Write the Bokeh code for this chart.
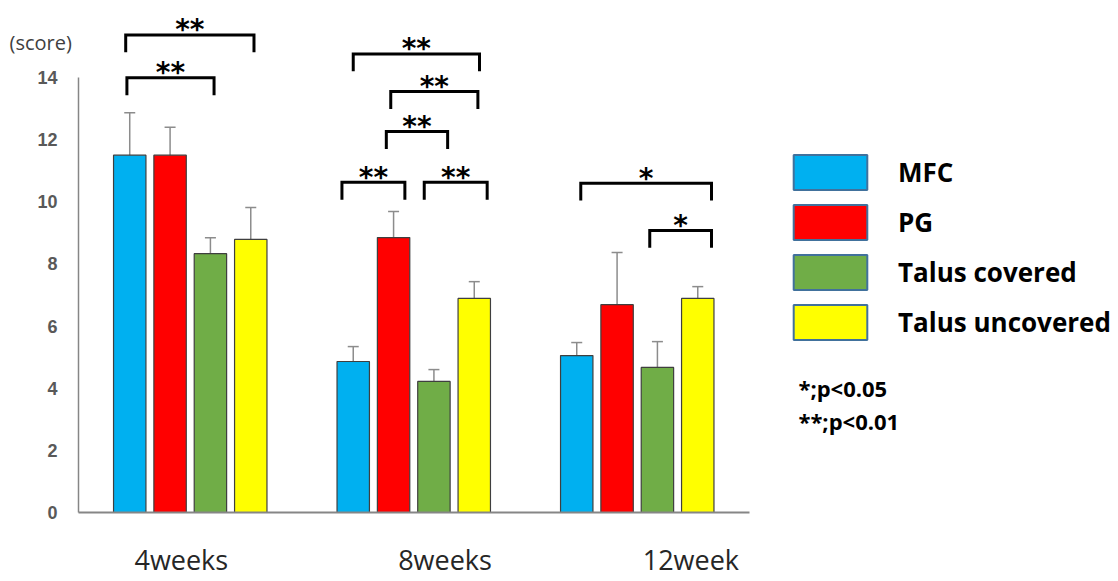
from bokeh.plotting import figure
from bokeh.models import (Range1d, FixedTicker, Whisker, TeeHead, ColumnDataSource,
                          Label, Legend, LegendItem)
from bokeh.core.properties import value
from bokeh.embed import file_html
from bokeh.resources import INLINE

# ---------------- data ----------------
weeks = ["4weeks", "8weeks", "12week"]
groups = ["MFC", "PG", "Talus covered", "Talus uncovered"]
colors = ["#00B0F0", "#FF0000", "#70AD47", "#FFFF00"]

mfc = [11.5, 4.86, 5.05]
mfc_err = [1.37, 0.48, 0.42]
pg = [11.5, 8.85, 6.69]
pg_err = [0.90, 0.84, 1.68]
talus_cov = [8.33, 4.22, 4.67]
talus_cov_err = [0.51, 0.38, 0.83]
talus_unc = [8.79, 6.89, 6.89]
talus_unc_err = [1.03, 0.54, 0.38]

means = [mfc, pg, talus_cov, talus_unc]
errors = [mfc_err, pg_err, talus_cov_err, talus_unc_err]

y_ticks = [0, 2, 4, 6, 8, 10, 12, 14]

# significance brackets: (week index, left slot, right slot, level, label)
bracket_week = [0, 0, 1, 1, 1, 1, 1, 2, 2]
bracket_left = [-0.10, -0.07, 0.0, 0.93, 0.82, -0.28, 1.76, 0.10, 1.81]
bracket_right = [3.08, 2.09, 3.13, 3.09, 2.34, 1.28, 3.32, 3.34, 3.34]
bracket_level = [15.37, 13.99, 14.76, 13.55, 12.26, 10.63, 10.63, 10.60, 9.08]
bracket_text = ["**", "**", "**", "**", "**", "**", "**", "*", "*"]

notes = ["*;p<0.05", "**;p<0.01"]

# ---------------- layout constants ----------------
pitch = 0.1805      # distance between bars within a group (x units)
bar_w = 0.145
drop = 0.56         # bracket leg length
week_label_pos = [0.46, 1.64, 2.74]
px_per_unit = 31.07
top_px = 512        # pixels from frame top to y = 0
bottom_px = 66      # pixels below y = 0 (room for week labels)
frame_h = top_px + bottom_px
frame_w = 1102
group_px = 223.5
left_pad = 70       # pixels between frame left and the y axis
x_start = -left_pad / group_px
x_end = x_start + frame_w / group_px
y_start = -bottom_px / px_per_unit
y_end = top_px / px_per_unit


def slot_x(week, slot):
    return week + 0.5 + (slot - 1.5) * pitch


p = figure(frame_width=frame_w, frame_height=frame_h,
           x_range=Range1d(x_start, x_end), y_range=Range1d(y_start, y_end),
           output_backend="svg", toolbar_location=None,
           min_border_left=8, min_border_right=0, min_border_top=0,
           min_border_bottom=0, background_fill_color="white",
           border_fill_color="white")
p.outline_line_color = None
p.xgrid.visible = False
p.ygrid.visible = False

for j, (g, c) in enumerate(zip(groups, colors)):
    xs = [slot_x(i, j) for i in range(len(weeks))]
    tops = means[j]
    uppers = [m + e for m, e in zip(means[j], errors[j])]
    src = ColumnDataSource(dict(x=xs, top=tops, upper=uppers))
    p.add_layout(Whisker(source=src, base="x", lower="top", upper="upper",
                         line_color="#8C8C8C", line_width=1.5,
                         lower_head=None,
                         upper_head=TeeHead(size=11, line_color="#8C8C8C",
                                            line_width=1.5)))
    p.vbar(x="x", top="top", bottom=0, width=bar_w, source=src, fill_color=c,
           line_color="#3F3F3F", line_width=1.2)

# brackets
bx, by, tx, ty = [], [], [], []
for w, l, r, lev in zip(bracket_week, bracket_left, bracket_right, bracket_level):
    x0, x1 = slot_x(w, l), slot_x(w, r)
    bx.append([x0, x0, x1, x1])
    by.append([lev - drop, lev, lev, lev - drop])
    tx.append((x0 + x1) / 2)
    ty.append(lev)
p.multi_line(xs=bx, ys=by, line_color="black", line_width=3,
             line_join="miter")
p.text(x=tx, y=ty, text=bracket_text, text_align="center",
       text_baseline="alphabetic", text_font=value("DejaVu Sans"),
       text_font_style="bold", text_font_size="28px", text_color="black",
       y_offset=-5)

# axes
p.yaxis.fixed_location = 0
p.yaxis.ticker = FixedTicker(ticks=y_ticks)
p.yaxis.bounds = (0, 14)
p.yaxis.major_tick_line_color = None
p.yaxis.minor_tick_line_color = None
p.yaxis.axis_line_color = "#868686"
p.yaxis.axis_line_width = 1.5
p.yaxis.major_label_text_font = "Liberation Sans"
p.yaxis.major_label_text_font_style = "bold"
p.yaxis.major_label_text_font_size = "18px"
p.yaxis.major_label_text_color = "#595959"
p.yaxis.major_label_standoff = 15

p.xaxis.fixed_location = 0
p.xaxis.ticker = FixedTicker(ticks=week_label_pos)
p.xaxis.major_label_overrides = {pos: w for pos, w in zip(week_label_pos, weeks)}
p.xaxis.bounds = (0, 3)
p.xaxis.major_tick_line_color = None
p.xaxis.minor_tick_line_color = None
p.xaxis.axis_line_color = "#868686"
p.xaxis.axis_line_width = 2
p.xaxis.major_label_text_font = "Open Sans"
p.xaxis.major_label_text_font_size = "27px"
p.xaxis.major_label_text_color = "#262626"
p.xaxis.major_label_standoff = 22

p.add_layout(Label(x=x_start, y=15.13, x_units="data", y_units="data",
                   text="(score)", text_baseline="middle", x_offset=1,
                   text_font="Open Sans", text_font_size="20px",
                   text_color="#404040"))

# ---------------- legend ----------------
items = []
for g, c in zip(groups, colors):
    r = p.rect(x=[-10], y=[-10], width=0.1, height=0.1, fill_color=c,
               line_color="#41719C", line_width=2)
    items.append(LegendItem(label=g, renderers=[r]))
leg = Legend(items=items, location=(706 + left_pad, 168 + bottom_px),
             orientation="vertical",
             glyph_width=92, glyph_height=44, label_height=44,
             spacing=6, label_standoff=22, padding=0, margin=0,
             border_line_color=None, background_fill_alpha=0,
             label_text_font="Open Sans", label_text_font_style="bold",
             label_text_font_size="26px", label_text_color="black")
p.add_layout(leg)

note_x = 3.221
note_y = [4.02, 2.96]
for t, ny in zip(notes, note_y):
    p.add_layout(Label(x=note_x, y=ny, x_units="data", y_units="data",
                       text=t, text_baseline="middle", text_font="Open Sans",
                       text_font_style="bold", text_font_size="22px",
                       text_color="black"))

open("out.html", "w").write(file_html(p, INLINE))
